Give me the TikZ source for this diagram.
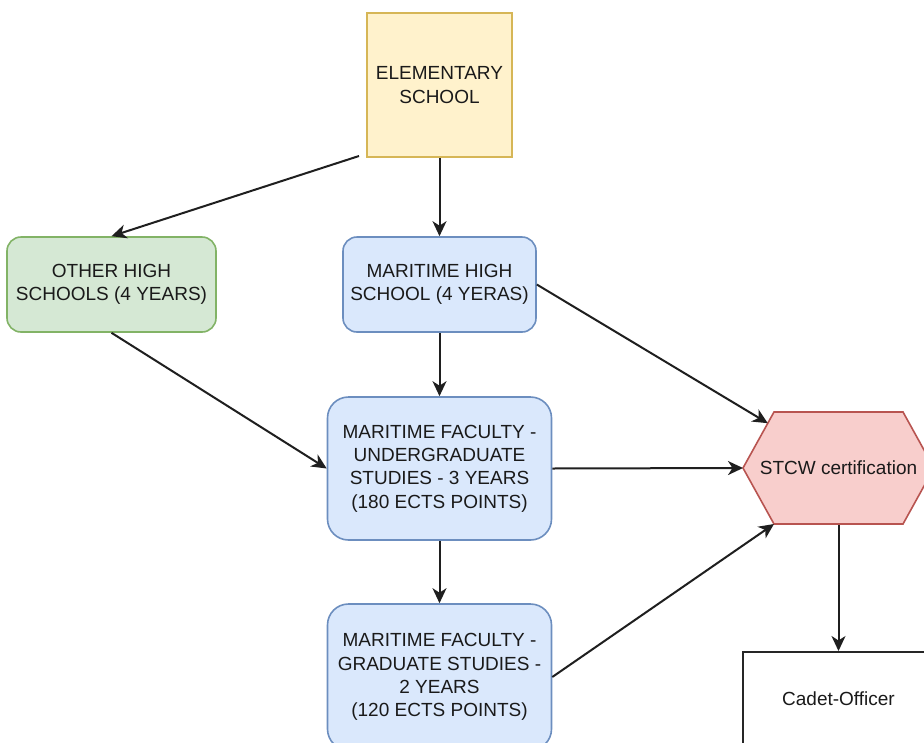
\documentclass[tikz,border=0pt]{standalone}
\usepackage{fontspec}
\setmainfont{Liberation Sans}
\usetikzlibrary{arrows.meta,calc}
\definecolor{yfill}{HTML}{FFF2CC}
\definecolor{ydraw}{HTML}{D6B656}
\definecolor{gfill}{HTML}{D5E8D4}
\definecolor{gdraw}{HTML}{82B366}
\definecolor{bfill}{HTML}{DAE8FC}
\definecolor{bdraw}{HTML}{6C8EBF}
\definecolor{rfill}{HTML}{F8CECC}
\definecolor{rdraw}{HTML}{B85450}
\definecolor{txt}{HTML}{1A1A1A}
\begin{document}
\begin{tikzpicture}[x=1pt,y=-1pt,
  box/.style={draw, line width=1.6pt, align=center, inner sep=0pt, text=txt,
    font=\fontsize{19}{23.3}\selectfont},
  yellowbox/.style={box, fill=yfill, draw=ydraw},
  greenbox/.style={box, fill=gfill, draw=gdraw},
  bluebox/.style={box, fill=bfill, draw=bdraw},
  hexpath/.style={fill=rfill, draw=rdraw, line width=1.6pt, line join=miter},
  plainbox/.style={box, draw=black!85, line width=2pt, fill=white},
  arr/.style={-{Stealth[length=15pt,width=14pt,inset=4.5pt]}, line width=2pt, draw=black!88}]
\useasboundingbox (0,0) rectangle (924,742);
\clip (0,0) rectangle (924,742);
\fill[white] (0,0) rectangle (924,742);

\node[yellowbox, minimum width=145pt, minimum height=144pt] (elem) at (439.5,85) {ELEMENTARY\\SCHOOL};
\node[greenbox, rounded corners=14pt, minimum width=209pt, minimum height=95pt] (other) at (111.5,284.5) {OTHER HIGH\\SCHOOLS (4 YEARS)};
\node[bluebox, rounded corners=14pt, minimum width=193pt, minimum height=95pt] (mhs) at (439.5,284.5) {MARITIME HIGH\\SCHOOL (4 YERAS)};
\node[bluebox, rounded corners=21pt, minimum width=224pt, minimum height=143pt] (uf) at (439.5,468.5) {MARITIME FACULTY -\\UNDERGRADUATE\\STUDIES - 3 YEARS\\(180 ECTS POINTS)};
\node[bluebox, rounded corners=21pt, minimum width=224pt, minimum height=146pt] (gf) at (439.5,677) {MARITIME FACULTY -\\GRADUATE STUDIES -\\2 YEARS\\(120 ECTS POINTS)};

\coordinate (hw) at (743,468);
\coordinate (hnw) at (774,412);
\coordinate (hne) at (903,412);
\coordinate (he) at (934,468);
\coordinate (hse) at (903,524);
\coordinate (hsw) at (774,524);
\draw[hexpath] (hw) -- (hnw) -- (hne) -- (he) -- (hse) -- (hsw) -- cycle;
\node[box, draw=none, minimum width=191pt, minimum height=112pt] (stcw) at (838.5,468) {STCW certification};
\coordinate (hin) at ($(hw)!0.8!(hnw)$);

\node[plainbox, minimum width=192pt, minimum height=94pt] (cadet) at (838.5,699) {Cadet-Officer};

\coordinate (elemout) at (359,156);
\draw[arr] (elemout) -- (other.north);
\draw[arr] (elem.south) -- (mhs.north);
\draw[arr] (mhs.south) -- (uf.north);
\draw[arr] (uf.south) -- (gf.north);
\draw[arr] (other.south) -- (uf.west);
\draw[arr] (mhs.east) -- (hin);
\draw[arr] (uf.east) -- (hw);
\draw[arr] (gf.east) -- (hsw);
\draw[arr] (stcw.south) -- (cadet.north);
\end{tikzpicture}
\end{document}
